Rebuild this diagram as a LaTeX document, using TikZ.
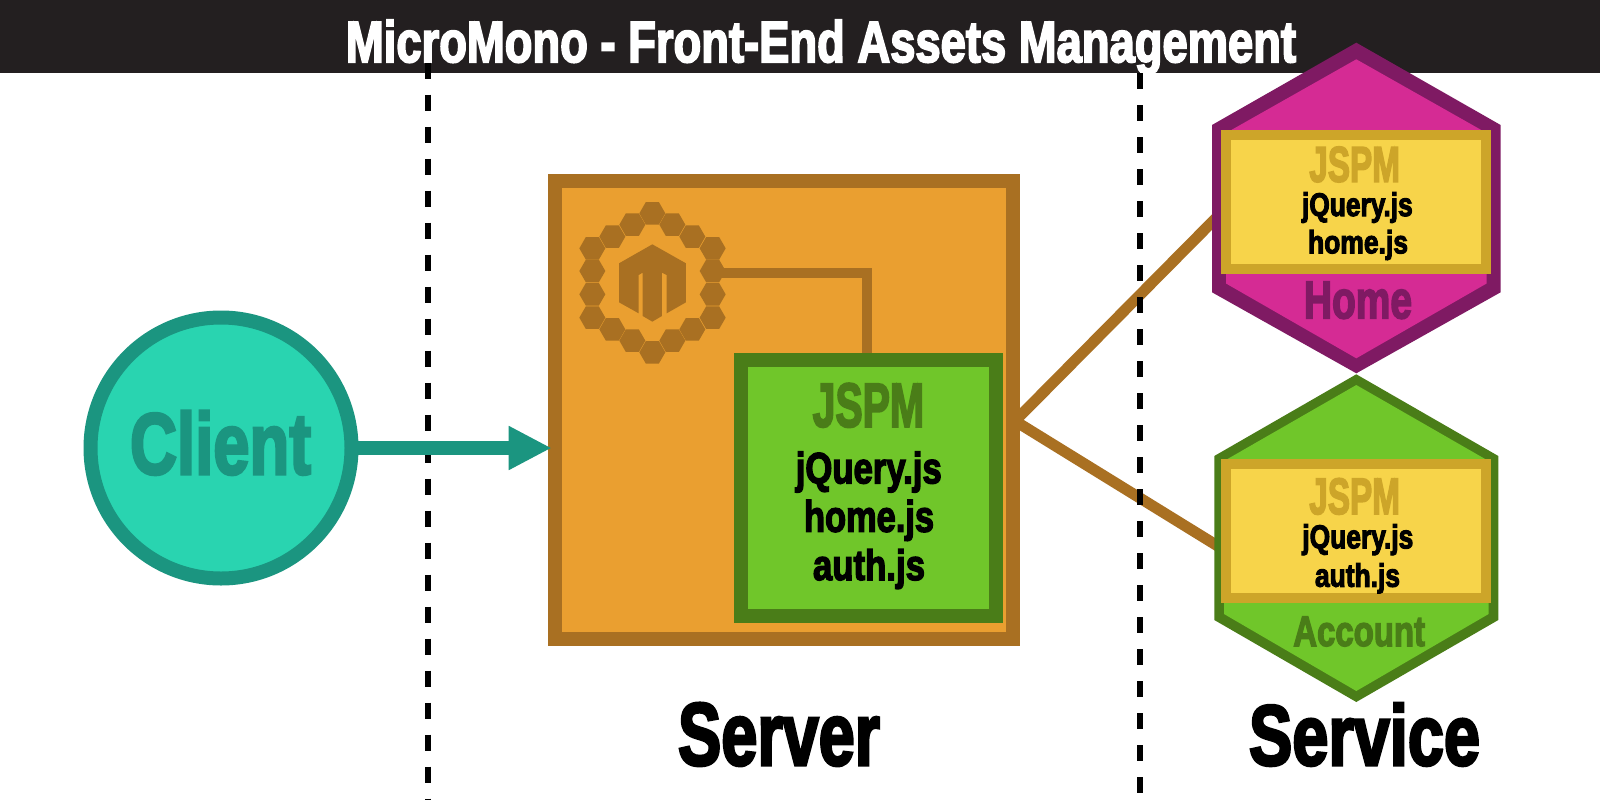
\documentclass[tikz,border=0pt]{standalone}
\usepackage{fontspec}
\usepackage{graphicx}
\usetikzlibrary{arrows.meta}
\newfontfamily\impfont[FakeBold=3.5]{Liberation Sans Bold}
\definecolor{barblack}{HTML}{231F20}
\definecolor{orangefill}{HTML}{EA9F30}
\definecolor{brownline}{HTML}{A97022}
\definecolor{greenfill}{HTML}{70C62A}
\definecolor{greenline}{HTML}{4A7D18}
\definecolor{magfill}{HTML}{D52B94}
\definecolor{purpline}{HTML}{7F1A63}
\definecolor{yelfill}{HTML}{F7D44A}
\definecolor{yelline}{HTML}{CDA529}
\definecolor{tealfill}{HTML}{29D4B0}
\definecolor{tealline}{HTML}{1B9580}
% name, colour, left x, baseline y, width, height, text
\newcommand\imptext[7]{\node[anchor=base west,inner sep=0pt,outer sep=0pt,text=#2] (#1) at (#3,#4) {\resizebox{#5pt}{#6pt}{\impfont #7}};}
\tikzset{
  boxnode/.style={rectangle,inner sep=0pt,outer sep=0pt},
  dashline/.style={black,line width=6pt,dash pattern=on 16pt off 16pt},
  brownconn/.style={brownline,line width=10pt},
  linkconn/.style={brownline,line width=11pt},
}
\begin{document}
\begin{tikzpicture}[x=1pt,y=-1pt]
\useasboundingbox (0,0) rectangle (1600,800);
\fill[white] (0,0) rectangle (1600,800);
% title bar
\fill[barblack] (0,0) rectangle (1600,72.7);
\imptext{title}{white}{346}{62}{950}{42}{MicroMono - Front-End Assets Management}
% separators
\coordinate (sepAtop) at (427.7,62.7);
\coordinate (sepAbot) at (427.7,800);
\coordinate (sepBtop) at (1139.7,73.3);
\coordinate (sepBbot) at (1139.7,800);
% server-service links
\coordinate (hub) at (1015,421);
\coordinate (homeEnd) at (1225,209);
\coordinate (accEnd) at (1225,550.5);
\draw[linkconn] (hub) -- (homeEnd);
\draw[linkconn] (hub) -- (accEnd);
\draw[dashline] (sepAtop) -- (sepAbot);
\draw[dashline] (sepBtop) -- (sepBbot);
% server
\node[boxnode,draw=brownline,fill=orangefill,line width=14pt,minimum width=458pt,minimum height=458pt] (server) at (784,410) {};
% logo connector
\coordinate (ringR) at (712.7,273.3);
\coordinate (greenTop) at (866.7,355);
\draw[brownconn] (ringR) -| (greenTop);
% hexagon ring
\foreach \zx/\zy in {127/205,127/273,127/343,127/413,187/448,247/482,307/517,367/482,427/448,488/413,488/343,488/273,488/205,427/170,367/134,307/100,247/134,187/170}{
  \fill[brownline,shift={(550+\zx/3,180+\zy/3)}] (-13,0) -- (-6.5,-11.3) -- (6.5,-11.3) -- (13,0) -- (6.5,11.3) -- (-6.5,11.3) -- cycle;
}
% logo mark
\fill[brownline,shift={(550,180)},x=0.3333pt,y=-0.3333pt] (307,193) -- (408,250) -- (408,367) -- (350,400) -- (350,285) -- (336,278) -- (336,408) -- (307,425) -- (278,408) -- (278,278) -- (266,285) -- (266,400) -- (207,367) -- (207,250) -- cycle;
% JSPM box
\node[boxnode,draw=greenline,fill=greenfill,line width=14pt,minimum width=255.3pt,minimum height=255.7pt] (bundle) at (868.7,487.8) {};
\imptext{bundleTitle}{greenline}{812.7}{426.7}{111.3}{43.4}{JSPM}
\imptext{bundleA}{black}{795.7}{483.3}{146}{31.6}{jQuery.js}
\imptext{bundleB}{black}{804}{531.7}{130}{31.7}{home.js}
\imptext{bundleC}{black}{813}{580}{112}{31}{auth.js}
% client
\node[circle,inner sep=0pt,outer sep=0pt,draw=tealline,fill=tealfill,line width=14pt,minimum size=261pt] (client) at (221,448) {};
\imptext{clientLabel}{tealline}{130}{474}{181}{63}{Client}
\coordinate (arrowTip) at (551.7,448);
\draw[tealline,line width=14pt,-{Triangle[length=43pt,width=41pt]}] (client.east) -- (arrowTip);
% home service
\fill[purpline] (1356.3,42.7) -- (1500.6,125) -- (1500.6,292.3) -- (1356.3,373.3) -- (1212,292.3) -- (1212,125) -- cycle;
\fill[magfill] (1356.3,59.3) -- (1486.6,133) -- (1486.6,283.5) -- (1356.3,358.3) -- (1226,283.5) -- (1226,133) -- cycle;
\node[boxnode,draw=yelline,fill=yelfill,line width=10pt,minimum width=259.2pt,minimum height=134pt] (homeBox) at (1355.9,202) {};
\imptext{homeTitle}{yelline}{1309.3}{181.7}{90.7}{35}{JSPM}
\imptext{homeA}{black}{1302}{216}{110.7}{23.7}{jQuery.js}
\imptext{homeB}{black}{1308}{253.3}{100}{23.3}{home.js}
\imptext{homeLabel}{purpline}{1304}{318.3}{108}{36.6}{Home}
% account service
\fill[greenline] (1356.3,374.3) -- (1498.3,456) -- (1498.3,620) -- (1356.3,702) -- (1214.3,620) -- (1214.3,456) -- cycle;
\fill[greenfill] (1356.3,385) -- (1488.6,461) -- (1488.6,614) -- (1356.3,691) -- (1224,614) -- (1224,461) -- cycle;
\node[boxnode,draw=yelline,fill=yelfill,line width=10pt,minimum width=259.7pt,minimum height=134pt] (accBox) at (1356.1,531.3) {};
\imptext{accTitle}{yelline}{1309.3}{514}{90.7}{35.7}{JSPM}
\imptext{accA}{black}{1302.3}{548.3}{111}{24}{jQuery.js}
\imptext{accB}{black}{1315}{586.7}{85}{23.4}{auth.js}
\imptext{accLabel}{greenline}{1293.3}{646}{131.7}{29.3}{Account}
% captions
\imptext{serverLabel}{black}{678}{765}{202}{62}{Server}
\imptext{serviceLabel}{black}{1249}{765}{231}{62}{Service}
\end{tikzpicture}
\end{document}
